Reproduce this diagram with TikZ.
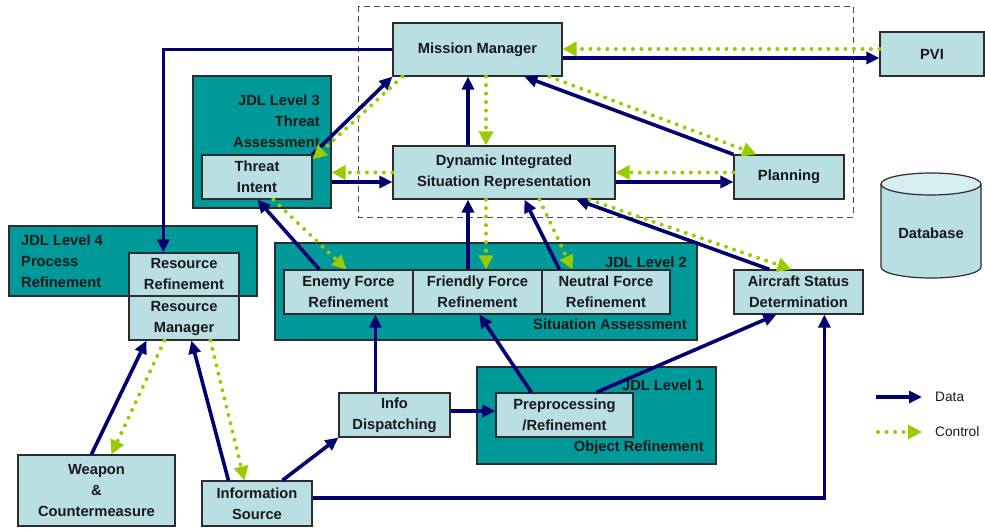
\documentclass[tikz,border=0pt]{standalone}
\usepackage{fontspec}
\setmainfont{Liberation Sans}
\usetikzlibrary{arrows.meta,calc}
\definecolor{navyd}{RGB}{0,0,110}
\definecolor{ctrl}{RGB}{153,204,0}
\definecolor{lblue}{RGB}{185,223,227}
\definecolor{ltop}{RGB}{214,238,240}
\definecolor{teal2}{RGB}{0,153,153}
\definecolor{edge}{RGB}{45,45,45}
\begin{document}
\begin{tikzpicture}[x=1pt,y=-1pt,
  txt/.style={font=\fontsize{14.7}{21}\selectfont\bfseries, text=black!90},
  box/.style={txt, draw=edge, line width=1.2pt, fill=lblue, align=center, inner sep=0pt},
  tealbox/.style={draw=edge, line width=1.2pt, fill=teal2, inner sep=0pt},
  lab/.style={txt, inner sep=0pt},
  data/.style={draw=navyd, line width=3.6pt, -{Triangle[length=13pt,width=12pt]}},
  control/.style={draw=ctrl, line width=4pt, line cap=round, dash pattern=on 0pt off 8.5pt,
     -{Triangle[length=14pt,width=14pt,fill=ctrl]}},
  legtxt/.style={font=\fontsize{13.7}{16}\selectfont, text=black!90, inner sep=0pt}
]
\useasboundingbox (0,0) rectangle (985,528);

% dashed region
\draw[draw=black!70, line width=1pt, dash pattern=on 6pt off 4pt] (358,6) rectangle (853,217);

% teal group boxes
\node[tealbox, minimum width=138pt, minimum height=132pt] (l3) at (262,142) {};
\node[tealbox, minimum width=248pt, minimum height=70pt] (l4) at (133,261) {};
\node[tealbox, minimum width=422pt, minimum height=97pt] (l2) at (486,291.5) {};
\node[tealbox, minimum width=239pt, minimum height=97pt] (l1) at (596.5,415.5) {};

% group labels
\node[lab, anchor=east, align=right] (l3lab) at (320,121.5) {JDL Level 3\\Threat\\Assessment};
\node[lab, anchor=west, align=left] (l4lab) at (21,261.5) {JDL Level 4\\Process\\Refinement};
\node[lab, anchor=east] (l2lab) at (687,262) {JDL Level 2};
\node[lab, anchor=east] (l2lab2) at (687,324) {Situation Assessment};
\node[lab, anchor=east] (l1lab) at (704,385) {JDL Level 1};
\node[lab, anchor=east] (l1lab2) at (704,448) {Object Refinement};

% boxes
\node[box, minimum width=169pt, minimum height=53pt] (mm) at (477.5,49.5) {Mission Manager};
\node[box, minimum width=104pt, minimum height=44pt] (pvi) at (932,54) {PVI};
\node[box, minimum width=110pt, minimum height=44pt] (ti) at (257,177) {Threat\\Intent};
\node[box, minimum width=222pt, minimum height=53pt] (disr) at (504,172.5) {Dynamic Integrated\\Situation Representation};
\node[box, minimum width=110pt, minimum height=44pt] (plan) at (789,177) {Planning};
\node[box, minimum width=110pt, minimum height=43pt] (rr) at (184,274.5) {Resource\\Refinement};
\node[box, minimum width=110pt, minimum height=44pt] (rm) at (184,318) {Resource\\Manager};
\node[box, minimum width=129pt, minimum height=44pt] (ef) at (348.5,292) {Enemy Force\\Refinement};
\node[box, minimum width=129pt, minimum height=44pt] (ff) at (477.5,292) {Friendly Force\\Refinement};
\node[box, minimum width=128pt, minimum height=44pt] (nf) at (606,292) {Neutral Force\\Refinement};
\node[box, minimum width=129pt, minimum height=44pt] (asd) at (798.5,292) {Aircraft Status\\Determination};
\node[box, minimum width=137pt, minimum height=44pt] (pre) at (564.5,415) {Preprocessing\\/Refinement};
\node[box, minimum width=111pt, minimum height=44pt] (id) at (394.5,415) {Info\\Dispatching};
\node[box, minimum width=157pt, minimum height=71pt] (wc) at (96.5,490.5) {Weapon\\\&\\Countermeasure};
\node[box, minimum width=110pt, minimum height=45pt] (is) at (257,503.5) {Information\\Source};

% database cylinder
\path[fill=lblue, draw=edge, line width=1.2pt] (881,184) -- (881,267)
  arc[start angle=180, end angle=360, x radius=50pt, y radius=11pt] -- (981,184);
\draw[fill=ltop, draw=edge, line width=1.2pt] (931,184) ellipse [x radius=50pt, y radius=11pt];
\node[txt, inner sep=0pt] (db) at (931,233) {Database};

% connectors: data
\draw[data] (mm.west) -| ([xshift=35pt]rr.north west);
\draw[data] (ti.north east) -- (mm.south west);
\draw[data] ([xshift=-36pt]disr.north) -- ([xshift=-36pt]disr.north |- mm.south);
\draw[data] ([yshift=-9.5pt]disr.west -| l3.east) -- ([yshift=-9.5pt]disr.west);
\draw[data] ([yshift=-8.5pt]mm.east) -- ([yshift=-8.5pt]mm.east -| pvi.west);
\draw[data] (plan.north west) -- ([xshift=132pt]mm.south west);
\draw[data] ([yshift=-9.5pt]disr.east) -- ([yshift=-9.5pt]disr.east -| plan.west);
\draw[data] ([xshift=36pt]asd.north west) -- ([xshift=184pt]disr.south west);
\draw[data] ([xshift=-9.5pt]ff.north) -- ([xshift=-9.5pt]ff.north |- disr.south);
\draw[data] ([xshift=18pt]nf.north west) -- ([xshift=132pt]disr.south west);
\draw[data] ([xshift=36pt]ef.north west) -- ([xshift=56pt]ti.south west);
\draw[data] ([xshift=37pt]id.north west) -- ([xshift=37pt]id.north west |- ef.south);
\draw[data] ([yshift=4pt]id.east) -- ([yshift=4pt]id.east -| pre.west);
\draw[data] ([xshift=36pt]pre.north west) -- ([xshift=67pt]ff.south west);
\draw[data] ([xshift=101pt]pre.north west) -- ([xshift=43pt]asd.south west);
\draw[data] ([yshift=5.5pt]is.east) -| ([xshift=91pt]asd.south west);
\draw[data] ([xshift=81pt]is.north west) -- (id.south west);
\draw[data] ([xshift=74pt]wc.north west) -- ([xshift=18pt]rm.south west);
\draw[data] ([xshift=27pt]is.north west) -- ([xshift=63pt]rm.south west);

% connectors: control
\draw[control] ([xshift=10pt]mm.south west) -- ([yshift=-5pt]ti.north east);
\draw[control] ([xshift=-18pt]disr.north |- mm.south) -- ([xshift=-18pt]disr.north);
\draw[control] (disr.west) -- (disr.west -| l3.east);
\draw[control] ([yshift=5pt]pvi.west) -- ([yshift=5pt]pvi.west -| mm.east);
\draw[control] ([xshift=157pt]mm.south west) -- ([xshift=23pt]plan.north west);
\draw[control] (disr.east -| plan.west) -- (disr.east);
\draw[control] ([xshift=197pt]disr.south west) -- ([xshift=58pt]asd.north west);
\draw[control] ([xshift=8.5pt]ff.north |- disr.south) -- ([xshift=8.5pt]ff.north);
\draw[control] ([xshift=147pt]disr.south west) -- ([xshift=31pt]nf.north west);
\draw[control] ([xshift=72pt]ti.south west) -- ([xshift=63pt]ef.north west);
\draw[control] ([xshift=36pt]rm.south west) -- ([xshift=94pt]wc.north west);
\draw[control] ([xshift=82pt]rm.south west) -- ([xshift=43pt]is.north west);

% legend
\coordinate (ld1) at (876,397); \coordinate (ld2) at (922,397);
\coordinate (lc1) at (878,432); \coordinate (lc2) at (922,432);
\draw[data] (ld1) -- (ld2);
\draw[control] (lc1) -- (lc2);
\node[legtxt, anchor=west] (ldt) at (935,397) {Data};
\node[legtxt, anchor=west] (lct) at (935,432) {Control};
\end{tikzpicture}
\end{document}
